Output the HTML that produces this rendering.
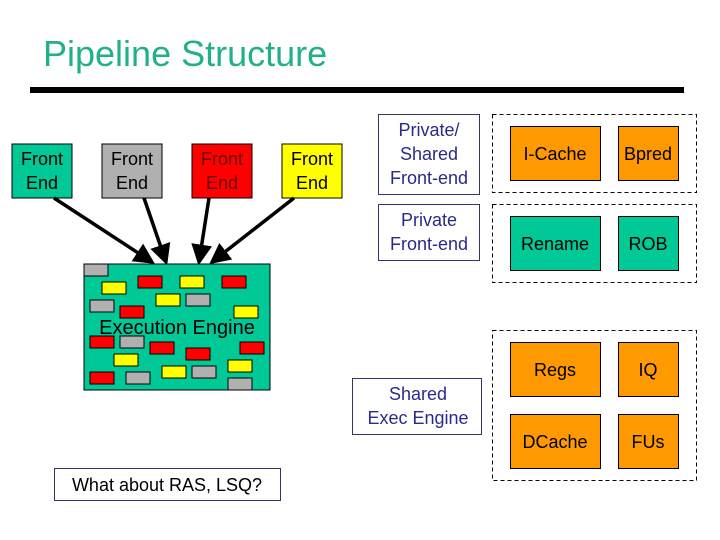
<!DOCTYPE html>
<html><head><style>body{margin:0;background:#fff}svg{display:block}text{font-family:"Liberation Sans",sans-serif}</style></head><body>
<svg width="720" height="540" viewBox="0 0 720 540" xmlns="http://www.w3.org/2000/svg">
<defs><marker id="a" markerWidth="6" markerHeight="6" refX="5" refY="3" orient="auto" markerUnits="strokeWidth"><path d="M0,0 L6,3 L0,6 z" fill="#000"/></marker></defs>
<text x="43" y="66" font-size="36" fill="#22b08a">Pipeline Structure</text>
<rect x="30" y="87" width="654" height="6" fill="#000"/>
<g stroke="#000" stroke-width="1" font-size="18" text-anchor="middle">
<rect x="12" y="144" width="60" height="54" fill="#00c896"/>
<rect x="102" y="144" width="60" height="54" fill="#b0b0b0"/>
<rect x="192" y="144" width="60" height="54" fill="#ff0000"/>
<rect x="282" y="144" width="60" height="54" fill="#ffff00"/>
</g>
<g font-size="18" text-anchor="middle" fill="#000">
<text x="42" y="165">Front</text><text x="42" y="189">End</text>
<text x="132" y="165">Front</text><text x="132" y="189">End</text>
<text x="222" y="165" fill="#600">Front</text><text x="222" y="189" fill="#600">End</text>
<text x="312" y="165">Front</text><text x="312" y="189">End</text>
</g>
<g stroke="#000" stroke-width="3.5" marker-end="url(#a)">
<line x1="54" y1="198" x2="152" y2="262"/>
<line x1="144" y1="198" x2="166" y2="262"/>
<line x1="209" y1="198" x2="199" y2="262"/>
<line x1="294" y1="198" x2="212" y2="262"/>
</g>
<rect x="84" y="264" width="186" height="126" fill="#00c896" stroke="#000"/>
<g stroke="#000" stroke-width="1">
<g fill="#b0b0b0">
<rect x="84" y="264" width="24" height="12"/><rect x="90" y="300" width="24" height="12"/><rect x="186" y="294" width="24" height="12"/>
<rect x="120" y="336" width="24" height="12"/><rect x="192" y="366" width="24" height="12"/><rect x="126" y="372" width="24" height="12"/><rect x="228" y="378" width="24" height="12"/>
</g>
<g fill="#ffff00">
<rect x="102" y="282" width="24" height="12"/><rect x="180" y="276" width="24" height="12"/><rect x="156" y="294" width="24" height="12"/><rect x="234" y="306" width="24" height="12"/>
<rect x="114" y="354" width="24" height="12"/><rect x="162" y="366" width="24" height="12"/><rect x="228" y="360" width="24" height="12"/>
</g>
<g fill="#ff0000">
<rect x="138" y="276" width="24" height="12"/><rect x="222" y="276" width="24" height="12"/><rect x="120" y="306" width="24" height="12"/>
<rect x="90" y="336" width="24" height="12"/><rect x="150" y="342" width="24" height="12"/><rect x="186" y="348" width="24" height="12"/><rect x="240" y="342" width="24" height="12"/><rect x="90" y="372" width="24" height="12"/>
</g>
</g>
<text x="177" y="334" font-size="20" text-anchor="middle" fill="#000">Execution Engine</text>
<g fill="#fff" stroke="#333366" stroke-width="1">
<rect x="378.5" y="114.5" width="101" height="80"/>
<rect x="378.5" y="204.5" width="101" height="56"/>
<rect x="352.5" y="378.5" width="129" height="56"/>
<rect x="54.5" y="468.5" width="226" height="32"/>
</g>
<g font-size="18" text-anchor="middle" fill="#2a2a8a">
<text x="429" y="136">Private/</text><text x="429" y="160">Shared</text><text x="429" y="184">Front-end</text>
<text x="429" y="226">Private</text><text x="429" y="250">Front-end</text>
<text x="418" y="400">Shared</text><text x="418" y="424">Exec Engine</text>
</g>
<text x="167" y="491" font-size="18" text-anchor="middle" fill="#000">What about RAS, LSQ?</text>
<g fill="none" stroke="#000" stroke-dasharray="4,3">
<rect x="492.5" y="114.5" width="204" height="78"/>
<rect x="492.5" y="204.5" width="204" height="78"/>
<rect x="492.5" y="330.5" width="204" height="150"/>
</g>
<g stroke="#000">
<rect x="510.5" y="126.5" width="90" height="54" fill="#ff9900"/>
<rect x="618.5" y="126.5" width="60" height="54" fill="#ff9900"/>
<rect x="510.5" y="216.5" width="90" height="54" fill="#00c896"/>
<rect x="618.5" y="216.5" width="60" height="54" fill="#00c896"/>
<rect x="510.5" y="342.5" width="90" height="54" fill="#ff9900"/>
<rect x="618.5" y="342.5" width="60" height="54" fill="#ff9900"/>
<rect x="510.5" y="414.5" width="90" height="54" fill="#ff9900"/>
<rect x="618.5" y="414.5" width="60" height="54" fill="#ff9900"/>
</g>
<g font-size="18" text-anchor="middle" fill="#000">
<text x="555" y="160">I-Cache</text><text x="648" y="160">Bpred</text>
<text x="555" y="250">Rename</text><text x="648" y="250">ROB</text>
<text x="555" y="376">Regs</text><text x="648" y="376">IQ</text>
<text x="555" y="448">DCache</text><text x="648" y="448">FUs</text>
</g>
</svg>
</body></html>
